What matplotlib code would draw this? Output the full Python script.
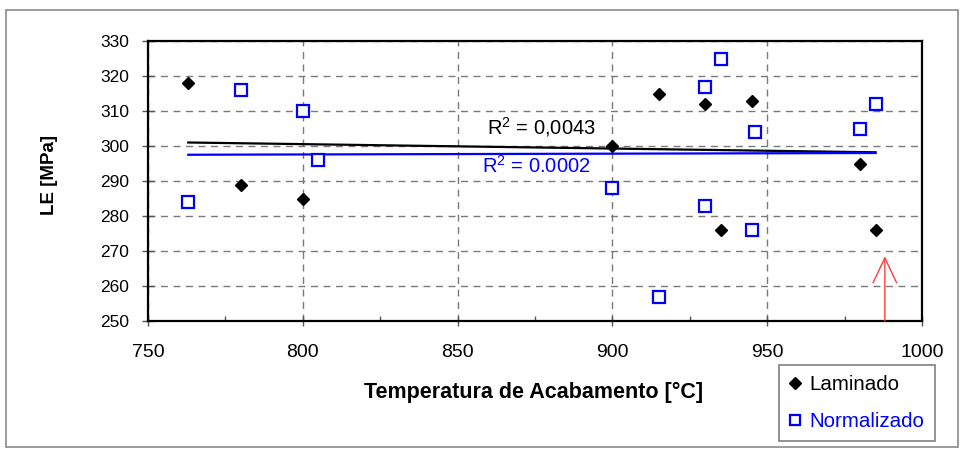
import matplotlib
matplotlib.use("Agg")
import matplotlib.pyplot as plt
from matplotlib.patches import Rectangle
from matplotlib.ticker import MultipleLocator

plt.rcParams['font.family'] = ['Liberation Sans', 'DejaVu Sans']
plt.rcParams['mathtext.default'] = 'regular'

# dados
lam_temp = [763, 780, 800, 900, 915, 930, 935, 945, 980, 985]
lam_le = [318, 289, 285, 300, 315, 312, 276, 313, 295, 276]

norm_temp = [763, 780, 800, 805, 900, 915, 930, 930, 935, 945, 946, 980, 985]
norm_le = [284, 316, 310, 296, 288, 257, 317, 283, 325, 276, 304, 305, 312]

# linhas de tendencia (extremos)
trend_x = [763, 985]
trend_lam = [301.0, 298.2]
trend_norm = [297.5, 298.0]

r2_lam = "R$^{2}$ = 0,0043"
r2_norm = "R$^{2}$ = 0.0002"
arrow_x = 988
arrow_from, arrow_to = 250, 268.5

fig = plt.figure(figsize=(9.63, 4.51), dpi=100)
ax = fig.add_axes([148 / 963, 1 - 321 / 451, (922 - 148) / 963, (321 - 41) / 451])

ax.plot(trend_x, trend_lam, color='black', lw=1.6, zorder=2)
ax.plot(trend_x, trend_norm, color='#0000ff', lw=1.6, zorder=2)

ax.plot(lam_temp, lam_le, 'D', color='black', ms=6.6, zorder=3, label='Laminado')
ax.plot(norm_temp, norm_le, 's', mfc='white', mec='#0000ff', mew=1.6, ms=8,
        zorder=3, label='Normalizado')

ax.text(859.5, 305.5, r2_lam, fontsize=14.5, color='black', va='center')
ax.text(858, 294.3, r2_norm, fontsize=14.5, color='#0000ff', va='center')

ax.annotate('', xy=(arrow_x, arrow_to), xytext=(arrow_x, arrow_from),
            arrowprops=dict(arrowstyle='->,head_length=1.8,head_width=0.85',
                            color='#ff3b3b', lw=1, shrinkA=0, shrinkB=0))

ax.set_xlim(750, 1000)
ax.set_ylim(250, 330)
ax.xaxis.set_major_locator(MultipleLocator(50))
ax.xaxis.set_minor_locator(MultipleLocator(25))
ax.yaxis.set_major_locator(MultipleLocator(10))
ax.grid(True, which='major', color='#7a7a7a', ls=(0, (5, 4)), lw=1)
ax.set_axisbelow(True)
for s in ax.spines.values():
    s.set_linewidth(1.6)
    s.set_color('black')

ax.tick_params(axis='y', direction='inout', length=9, width=1, color='#555555',
               labelsize=12.5, pad=9)
ax.tick_params(axis='x', which='major', direction='inout', length=7, width=1,
               color='#555555', labelsize=14, pad=13)
ax.tick_params(axis='x', which='minor', direction='in', length=3.5, width=1,
               color='#555555')

fig.text(534 / 963, 1 - 392 / 451, 'Temperatura de Acabamento [°C]', fontsize=15.5,
         fontweight='bold', ha='center', va='center')
fig.text(49 / 963, 1 - 175 / 451, 'LE [MPa]', fontsize=13.5, fontweight='bold',
         rotation=90, ha='center', va='center')

leg = fig.legend(loc='upper left', bbox_to_anchor=(779 / 963, 1 - 365 / 451),
                 borderaxespad=0, fontsize=14.8, frameon=True, fancybox=False,
                 handlelength=0.6, handletextpad=0.4, borderpad=0.5,
                 labelspacing=0.85, markerscale=0.85)
leg.get_frame().set_edgecolor('#606060')
leg.get_frame().set_linewidth(1.2)
for t, c in zip(leg.get_texts(), ['black', '#0000ff']):
    t.set_color(c)

fig.patches.append(Rectangle((6 / 963, 4 / 451), 952 / 963, 437 / 451,
                             transform=fig.transFigure, fill=False,
                             edgecolor='#8a8a8a', lw=1.2))

fig.savefig('out.png', dpi=100)
